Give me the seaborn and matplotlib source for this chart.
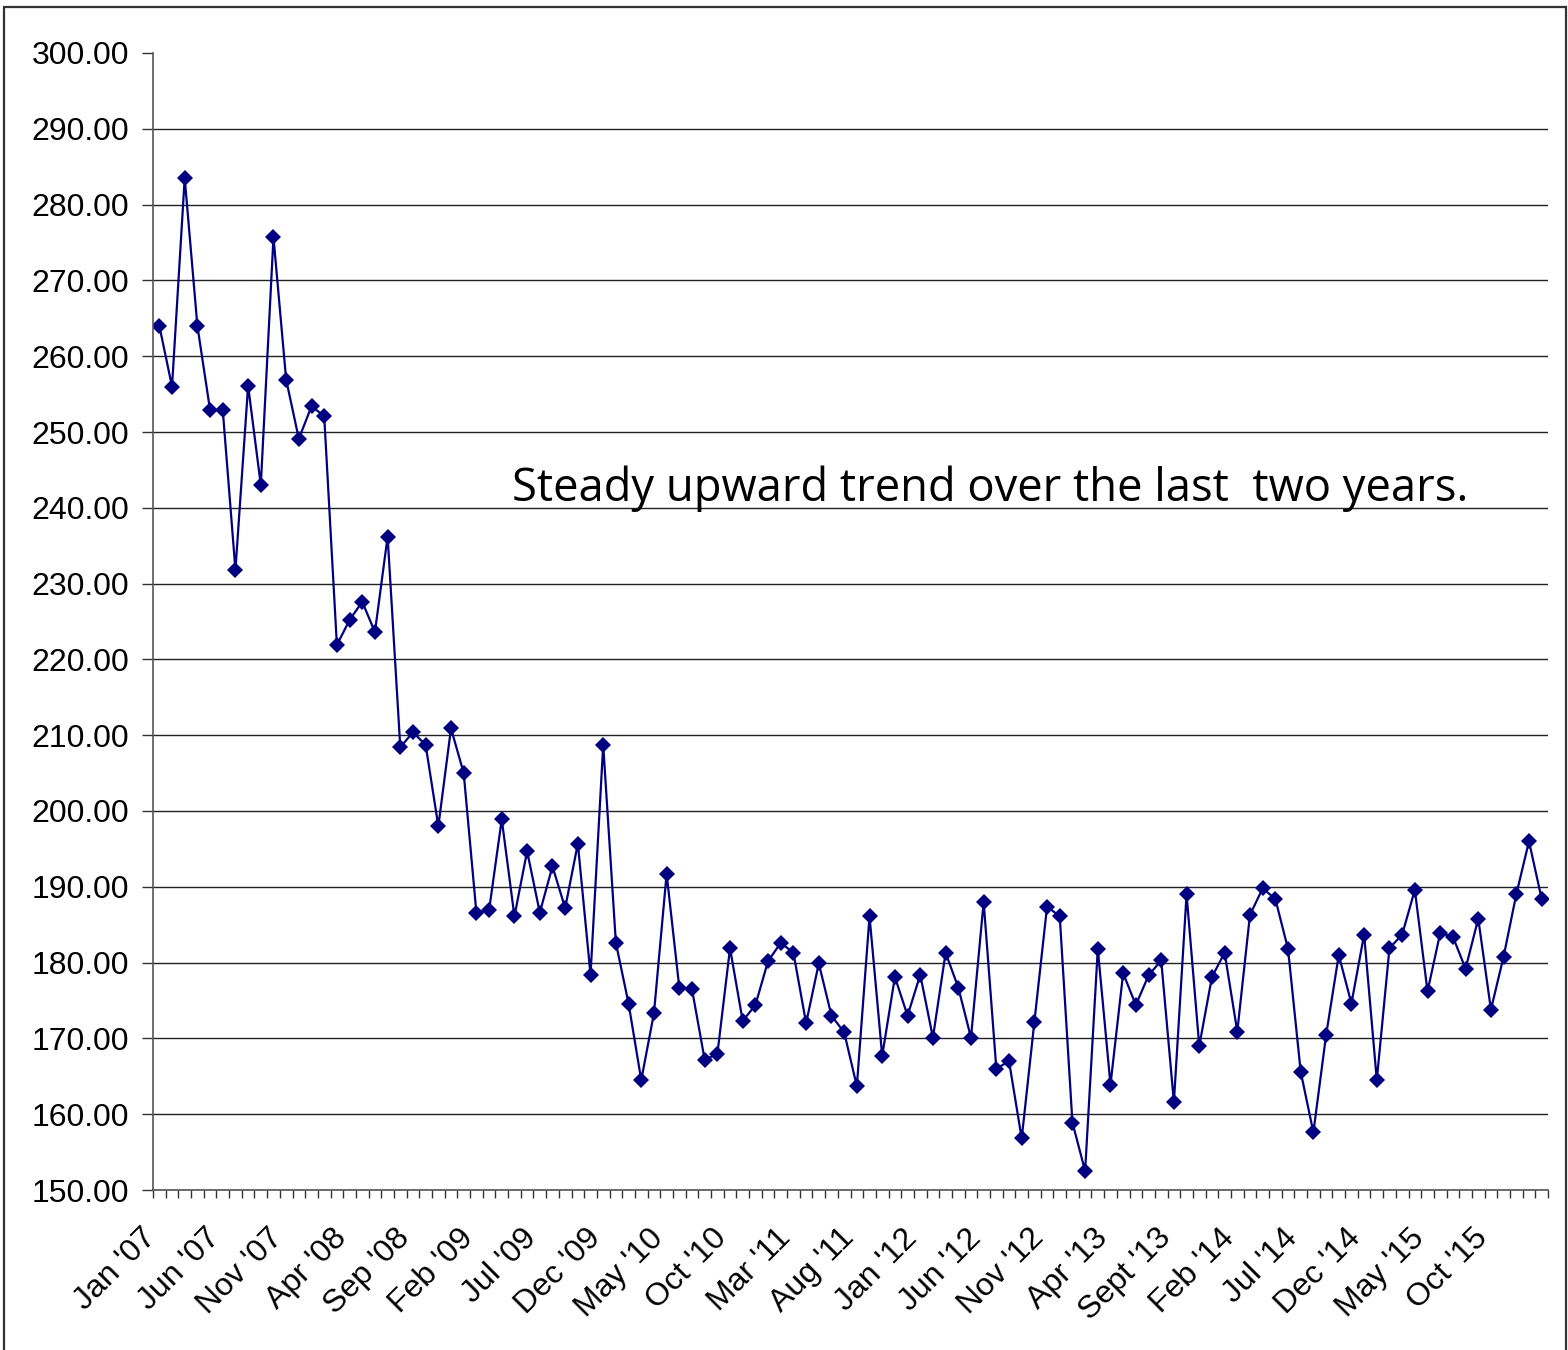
import matplotlib
matplotlib.use("Agg")
import matplotlib.pyplot as plt
import matplotlib.transforms as mtransforms
import seaborn as sns
import numpy as np
import pandas as pd
from matplotlib.patches import Rectangle

# monthly values, Jan '07 .. Feb '16
values = [
    264.0, 256.0, 283.5, 264.0, 252.9, 252.9, 231.8, 256.1, 243.0, 275.7,
    256.9, 249.1, 253.4, 252.1, 221.9, 225.2, 227.6, 223.6, 236.2, 208.4,
    210.4, 208.7, 198.0, 210.9, 205.0, 186.6, 186.9, 198.9, 186.1, 194.7,
    186.6, 192.7, 187.2, 195.7, 178.4, 208.7, 182.6, 174.6, 164.5, 173.3,
    191.7, 176.7, 176.5, 167.2, 167.9, 181.9, 172.3, 174.4, 180.2, 182.6,
    181.3, 172.0, 179.9, 173.0, 170.8, 163.7, 186.1, 167.7, 178.1, 173.0,
    178.4, 170.1, 181.3, 176.7, 170.1, 188.0, 166.0, 167.0, 156.8, 172.2,
    187.4, 186.1, 158.9, 152.5, 181.8, 163.9, 178.6, 174.4, 178.3, 180.3,
    161.6, 189.0, 169.0, 178.1, 181.3, 170.9, 186.3, 189.8, 188.4, 181.8,
    165.6, 157.6, 170.4, 181.0, 174.6, 183.7, 164.5, 181.9, 183.7, 189.6,
    176.2, 183.9, 183.4, 179.2, 185.8, 173.8, 180.8, 189.0, 196.0, 188.4,
]
tick_labels = ["Jan '07", "Jun '07", "Nov '07", "Apr '08", "Sep '08", "Feb '09",
               "Jul '09", "Dec '09", "May '10", "Oct '10", "Mar '11", "Aug '11",
               "Jan '12", "Jun '12", "Nov '12", "Apr '13", "Sept '13", "Feb '14",
               "Jul '14", "Dec '14", "May '15", "Oct '15"]
y_ticks = np.arange(150, 301, 10)
note = "Steady upward trend over the last  two years."

df = pd.DataFrame({"month": np.arange(len(values)), "value": values})

sns.set_style("white")
plt.rcParams["font.family"] = ["Liberation Sans", "DejaVu Sans"]

fig = plt.figure(figsize=(15.68, 13.5), dpi=100)
ax = fig.add_axes([153 / 1568, 1 - 1190 / 1350, 1395 / 1568, 1137 / 1350])

sns.lineplot(data=df, x="month", y="value", ax=ax, color="#000080",
             linewidth=1.6, marker="D", markersize=8.5, markeredgewidth=0,
             markerfacecolor="#000080")

n = len(values)
ax.set_xlim(-0.5, n - 0.5)
ax.set_ylim(150, 300)
ax.set_yticks(y_ticks)
ax.set_yticklabels([f"{v:.2f}" for v in y_ticks], fontsize=23, color="black")
ax.set_xticks(np.arange(0, len(tick_labels) * 5, 5))
ax.set_xticklabels(tick_labels, rotation=45, ha="right", va="top",
                   rotation_mode="anchor", fontsize=23, color="black")
ax.set_xticks(np.arange(-0.5, n, 1), minor=True)
ax.tick_params(axis="x", which="major", length=0, pad=18)
ax.tick_params(axis="x", which="minor", length=6, width=1, color="#333333", direction="out", bottom=True)
ax.tick_params(axis="y", length=8, width=1, color="#333333", direction="out", pad=9, left=True)
ax.set_xlabel("")
ax.set_ylabel("")

# shift the rotated month labels a little left and down, like the original
shift = mtransforms.ScaledTranslation(-18 / 100, -8 / 100, fig.dpi_scale_trans)
for lab in ax.get_xticklabels():
    lab.set_transform(lab.get_transform() + shift)

ax.grid(axis="y", color="#222222", linewidth=1)
ax.grid(axis="x", visible=False)
ax.get_ygridlines()[-1].set_visible(False)

for side in ["top", "right"]:
    ax.spines[side].set_visible(False)
for side in ["left", "bottom"]:
    ax.spines[side].set_color("#555555")
    ax.spines[side].set_linewidth(1.2)

ax.text(512 / 1568, 1 - 501 / 1350, note, transform=fig.transFigure,
        fontsize=32.7, family=["Open Sans", "DejaVu Sans"], ha="left",
        va="baseline", color="black")

fig.patches.append(Rectangle((4 / 1568, -0.05), 1562 / 1568, 1.05 - 7 / 1350,
                             transform=fig.transFigure, fill=False,
                             edgecolor="#333333", linewidth=1.6))

fig.savefig("out.png", dpi=100)
